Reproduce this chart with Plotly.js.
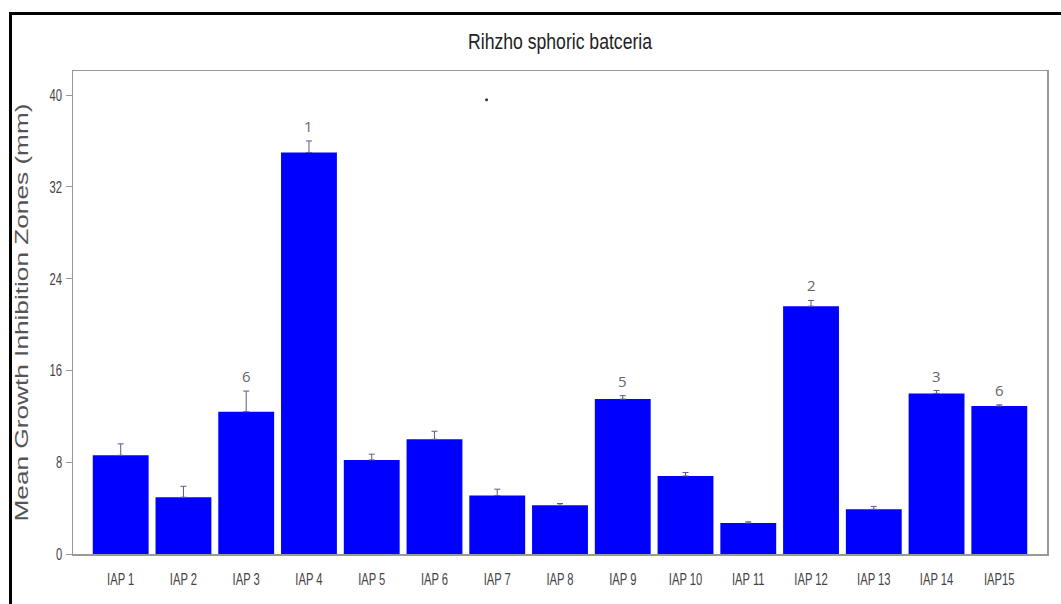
<!DOCTYPE html>
<html>
<head>
<meta charset="utf-8">
<script src="https://cdn.plot.ly/plotly-3.0.1.min.js"></script>
<style>
  html, body { margin: 0; padding: 0; background: #fff; }
  #wrap { position: relative; width: 1061px; height: 604px; overflow: hidden; }
  #chart { width: 1061px; height: 604px; }
  #frame { position: absolute; left: 9px; top: 12px; width: 1100px; height: 700px;
           border-left: 3px solid #000; border-top: 3px solid #000; pointer-events: none; }
</style>
</head>
<body>
<div id="wrap">
  <div id="chart"></div>
  <div id="frame"></div>
</div>
<script>
// Data
const categories = ["IAP 1","IAP 2","IAP 3","IAP 4","IAP 5","IAP 6","IAP 7","IAP 8","IAP 9","IAP 10","IAP 11","IAP 12","IAP 13","IAP 14","IAP15"];
const meanZones = [8.6, 4.95, 12.4, 35.0, 8.2, 10.0, 5.1, 4.25, 13.5, 6.8, 2.7, 21.6, 3.9, 14.0, 12.9];
const errorUp   = [1.0, 0.95, 1.8, 1.0, 0.5, 0.7, 0.55, 0.15, 0.3, 0.3, 0.1, 0.5, 0.25, 0.25, 0.1];
const rankLabels = ["", "", "6", "1", "", "", "", "", "5", "", "", "2", "", "3", "6"];
const yTicks = [0, 8, 16, 24, 32, 40];
const strayX = [5.83];
const strayY = [39.6];

const sans = "Liberation Sans, Arial, sans-serif";

const bars = {
  type: "bar",
  x: categories.map((c, i) => i),
  y: meanZones,
  marker: { color: "#0000ff", line: { width: 0 } },
  error_y: { type: "data", array: errorUp, arrayminus: meanZones.map(() => 0), symmetric: false,
             color: "#5a5a8a", thickness: 1, width: 3 },
  hoverinfo: "x+y"
};

const stray = {
  type: "scatter", mode: "markers", x: strayX, y: strayY,
  marker: { color: "#333", size: 3 }, hoverinfo: "skip"
};

const annotations = [];
rankLabels.forEach((t, i) => {
  if (!t) return;
  annotations.push({
    x: i, y: meanZones[i] + errorUp[i], xref: "x", yref: "y",
    text: t, showarrow: false, yshift: 15, yanchor: "middle",
    font: { family: "Open Sans, Lato, sans-serif", size: 15, color: "#666" }
  });
});

const layout = {
  width: 1061, height: 604,
  margin: { l: 73, r: 14, t: 71, b: 50 },
  paper_bgcolor: "#fff", plot_bgcolor: "#fff",
  showlegend: false,
  bargap: 0.11,
  title: { text: "Rihzho sphoric batceria", x: 0.5, xref: "paper", y: 0.932, yanchor: "middle",
           font: { family: sans, size: 22, color: "#222" } },
  xaxis: {
    range: [-0.76, 14.76],
    tickmode: "array", tickvals: categories.map((c, i) => i), ticktext: categories,
    showgrid: false, zeroline: false, showline: true, linecolor: "#999", linewidth: 1.5, mirror: true,
    ticks: "", ticklabelstandoff: 9,
    tickfont: { family: sans, size: 17, color: "#444" }
  },
  yaxis: {
    range: [0, 42.1],
    tickmode: "array", tickvals: yTicks, ticktext: yTicks.map(String),
    showgrid: false, zeroline: false, showline: true, linecolor: "#999", linewidth: 1.5, mirror: true,
    ticks: "outside", ticklen: 6, tickcolor: "#999", tickwidth: 1,
    tickfont: { family: sans, size: 17, color: "#444" },
    title: { text: "Mean Growth Inhibition Zones (mm)", standoff: 10,
             font: { family: sans, size: 18, color: "#555" } }
  },
  annotations: annotations
};

function squeeze(el, target) {
  el.setAttribute("textLength", target);
  el.setAttribute("lengthAdjust", "spacingAndGlyphs");
}

Plotly.newPlot("chart", [bars, stray], layout, { displayModeBar: false, staticPlot: true }).then(() => {
  const gd = document.getElementById("chart");
  const t = gd.querySelector(".gtitle");
  if (t) squeeze(t, 184);
  const yt = gd.querySelector(".ytitle");
  if (yt) squeeze(yt, 418);
  gd.querySelectorAll(".xtick text, .ytick text").forEach(el => {
    const w = el.getComputedTextLength();
    squeeze(el, (w * 0.66).toFixed(1));
  });
});
</script>
</body>
</html>
